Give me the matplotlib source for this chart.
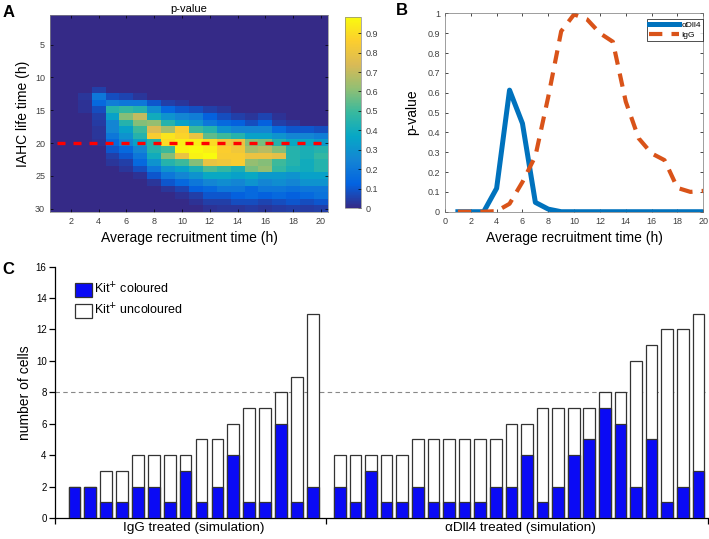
import matplotlib
matplotlib.use('Agg')
import matplotlib.pyplot as plt
import numpy as np
from matplotlib.colors import LinearSegmentedColormap

plt.rcParams['font.family'] = ['Liberation Sans', 'DejaVu Sans']

# panel A: p-value map, rows = IAHC life time 1..30 h, cols = recruitment time 1..20 h
z = [0] * 20
pmap = [z, z, z, z, z, z, z, z, z, z, z,
        [0, 0, 0, .05, 0, 0, 0, 0, 0, 0, 0, 0, 0, 0, 0, 0, 0, 0, 0, 0],
        [0, 0, .03, .2, .08, .06, .03, 0, 0, 0, 0, 0, 0, 0, 0, 0, 0, 0, 0, 0],
        [0, 0, .02, .15, .22, .2, .2, .1, .05, .03, 0, 0, 0, 0, 0, 0, 0, 0, 0, 0],
        [0, 0, .02, .08, .45, .48, .45, .28, .14, .1, .08, .05, .03, 0, 0, 0, 0, 0, 0, 0],
        [0, 0, 0, .05, .35, .6, .7, .4, .3, .25, .22, .12, .08, .05, .03, .06, .02, 0, 0, 0],
        [0, 0, 0, .04, .25, .45, .6, .62, .45, .35, .3, .2, .15, .12, .08, .12, .05, .03, 0, 0],
        [0, 0, 0, .03, .25, .35, .5, .75, .65, .85, .5, .45, .3, .25, .25, .25, .15, .1, .1, .08],
        [0, 0, 0, .03, .2, .3, .45, .85, .92, .88, .8, .55, .5, .45, .35, .35, .3, .25, .25, .22],
        [0, 0, 0, .02, .15, .25, .35, .45, .9, .95, .95, .9, .82, .8, .6, .58, .45, .38, .38, .33],
        [0, 0, 0, 0, .1, .15, .25, .45, .5, .96, .98, .95, .86, .82, .65, .68, .6, .45, .42, .45],
        [0, 0, 0, 0, .05, .1, .2, .4, .6, .8, .96, .985, .85, .85, .8, .8, .78, .45, .42, .48],
        [0, 0, 0, 0, .03, .05, .15, .3, .45, .5, .6, .8, .82, .85, .62, .6, .5, .45, .4, .45],
        [0, 0, 0, 0, 0, .03, .08, .2, .3, .35, .42, .52, .48, .42, .58, .62, .48, .42, .4, .45],
        [0, 0, 0, 0, 0, 0, .02, .1, .2, .25, .3, .38, .38, .35, .38, .32, .32, .3, .35, .35],
        [0, 0, 0, 0, 0, 0, 0, .03, .1, .15, .2, .25, .28, .25, .3, .25, .28, .25, .3, .3],
        [0, 0, 0, 0, 0, 0, 0, 0, .03, .06, .12, .15, .2, .2, .15, .2, .2, .18, .2, .2],
        [0, 0, 0, 0, 0, 0, 0, 0, 0, .02, .05, .1, .1, .12, .15, .12, .15, .12, .15, .18],
        [0, 0, 0, 0, 0, 0, 0, 0, 0, 0, .02, .05, .05, .08, .08, .06, .08, .1, .08, .1],
        [0, 0, 0, 0, 0, 0, 0, 0, 0, 0, 0, .02, .03, .03, .04, .03, .04, .05, .04, .05]]
fitted_life = 20

# panel B
rec_time = list(range(1, 21))
p_dll4 = [0, 0, 0, .118, .613, .445, .047, .013, 0, 0, 0, 0, 0, 0, 0, 0, 0, 0, 0, 0]
p_igg = [0, 0, 0, .003, .04, .15, .28, .58, .91, .995, .97, .9, .857, .555, .37, .294, .26, .12, .1, .105]

# panel C
igg_total = [2, 2, 3, 3, 4, 4, 4, 4, 5, 5, 6, 7, 7, 8, 9, 13]
igg_col = [2, 2, 1, 1, 2, 2, 1, 3, 1, 2, 4, 1, 1, 6, 1, 2]
dll_total = [4, 4, 4, 4, 4, 5, 5, 5, 5, 5, 5, 6, 6, 7, 7, 7, 7, 8, 8, 10, 11, 12, 12, 13]
dll_col = [2, 1, 3, 1, 1, 2, 1, 1, 1, 1, 2, 2, 4, 1, 2, 4, 5, 7, 6, 2, 5, 1, 2, 3]
groups = ['IgG treated (simulation)', 'αDll4 treated (simulation)']
threshold = 8

parula = LinearSegmentedColormap.from_list('parula', [
    '#352a87', '#0363e1', '#1485d4', '#06a7c6', '#38b99e',
    '#92bf73', '#d9ba56', '#fcce2e', '#f9fb0e'])

fig = plt.figure(figsize=(7.09, 5.39), dpi=100)
tick_col = '#404040'
lab_fs = 10

# ---- A
axA = fig.add_axes([0.0705, 0.6067, 0.392, 0.3655])
P = np.array(pmap)
im = axA.imshow(P, cmap=parula, extent=(0.5, 20.5, 30.5, 0.5), aspect='auto',
                interpolation='nearest', vmin=0, vmax=P.max())
axA.plot([1, 20.5], [fitted_life, fitted_life], color='red', lw=2.4, dashes=(2.4, 2.4))
axA.set_xlim(0.5, 20.5)
axA.set_ylim(30.5, 0.5)
axA.set_xticks(range(2, 21, 2))
axA.set_yticks(range(5, 31, 5))
axA.tick_params(direction='in', length=2.5, labelsize=6.5, labelcolor=tick_col,
                top=True, right=True, width=0.5)
for s in axA.spines.values():
    s.set_color('#888888')
    s.set_linewidth(0.5)
axA.set_title('p-value', fontsize=8, pad=2)
axA.set_xlabel('Average recruitment time (h)', fontsize=lab_fs, labelpad=4)
axA.set_ylabel('IAHC life time (h)', fontsize=lab_fs, labelpad=4)

cax = fig.add_axes([0.4866, 0.614, 0.0226, 0.355])
cb = fig.colorbar(im, cax=cax, ticks=np.arange(0, 1.0, 0.1))
cb.ax.set_yticklabels(['0'] + ['%.1f' % v for v in np.arange(0.1, 1.0, 0.1)])
cb.ax.tick_params(direction='in', length=2, labelsize=6.5, labelcolor=tick_col, width=0.5)
cb.outline.set_linewidth(0.5)
cb.outline.set_edgecolor('#888888')

# ---- B
axB = fig.add_axes([0.6276, 0.6072, 0.3643, 0.368])
axB.plot(rec_time, p_dll4, color='#0072BD', lw=3.6, label='αDll4')
axB.plot(rec_time, p_igg, color='#D95319', lw=3, dashes=(3.2, 2.2), label='IgG')
axB.set_xlim(0, 20)
axB.set_ylim(0, 1)
axB.set_xticks(range(0, 21, 2))
axB.set_yticks(np.arange(0, 1.01, 0.1))
axB.set_yticklabels(['0'] + ['%.1f' % v for v in np.arange(0.1, 0.95, 0.1)] + ['1'])
axB.tick_params(direction='in', length=2.5, labelsize=6.5, labelcolor=tick_col,
                top=True, right=True, width=0.5)
for s in axB.spines.values():
    s.set_color('#777777')
    s.set_linewidth(0.5)
axB.set_xlabel('Average recruitment time (h)', fontsize=lab_fs, labelpad=4)
axB.set_ylabel('p-value', fontsize=lab_fs, labelpad=6)
legB = axB.legend(loc='upper right', bbox_to_anchor=(1.0, 0.97), fontsize=6,
                  handlelength=3.6, frameon=True, fancybox=False, borderpad=0.25,
                  labelspacing=0.2, handletextpad=0.3, borderaxespad=0)
legB.get_frame().set_edgecolor('black')
legB.get_frame().set_linewidth(0.6)

# ---- C
axC = fig.add_axes([0.0776, 0.039, 0.921, 0.4663])
x_igg = 1.23 + 1.01 * np.arange(len(igg_total))
x_dll = 18.1 + 0.991 * np.arange(len(dll_total))
xs = np.concatenate([x_igg, x_dll])
tot = np.array(igg_total + dll_total)
col = np.array(igg_col + dll_col)
axC.axhline(threshold, color='#888888', lw=0.8, dashes=(4, 3), zorder=1)
axC.bar(xs, tot, width=0.74, color='white', edgecolor='#333333', lw=0.9, zorder=2,
        label='Kit$^{+}$ uncoloured')
axC.bar(xs, col, width=0.74, color='#0a0af5', edgecolor='#333333', lw=0.9, zorder=3,
        label='Kit$^{+}$ coloured')
axC.set_xlim(0, 41.5)
axC.set_ylim(0, 16)
axC.set_yticks(range(0, 17, 2))
axC.set_xticks([0, 17.23, 41.5])
axC.set_xticklabels([])
axC.set_xticks([8.84, 29.56], minor=True)
axC.set_xticklabels(groups, minor=True)
axC.tick_params(axis='x', which='minor', length=0, labelsize=9.7, pad=3)
axC.tick_params(axis='x', which='major', length=4, width=0.9, direction='out')
axC.tick_params(axis='y', length=4, width=0.9, direction='out', labelsize=7, pad=2)
axC.spines['top'].set_visible(False)
axC.spines['right'].set_visible(False)
axC.spines['left'].set_linewidth(0.9)
axC.spines['bottom'].set_linewidth(0.9)
axC.set_ylabel('number of cells', fontsize=10, labelpad=3)
h, l = axC.get_legend_handles_labels()
legC = axC.legend(h[::-1], l[::-1], loc='upper left', bbox_to_anchor=(0.014, 0.985),
                  frameon=False, fontsize=9, handlelength=1.35, handleheight=1.35,
                  handletextpad=0.15, labelspacing=0.45)

# panel letters
fig.text(0.004, 0.977, 'A', fontsize=12, fontweight='bold', va='center')
fig.text(0.559, 0.980, 'B', fontsize=12, fontweight='bold', va='center')
fig.text(0.004, 0.500, 'C', fontsize=12, fontweight='bold', va='center')

fig.savefig('out.png', dpi=100)
